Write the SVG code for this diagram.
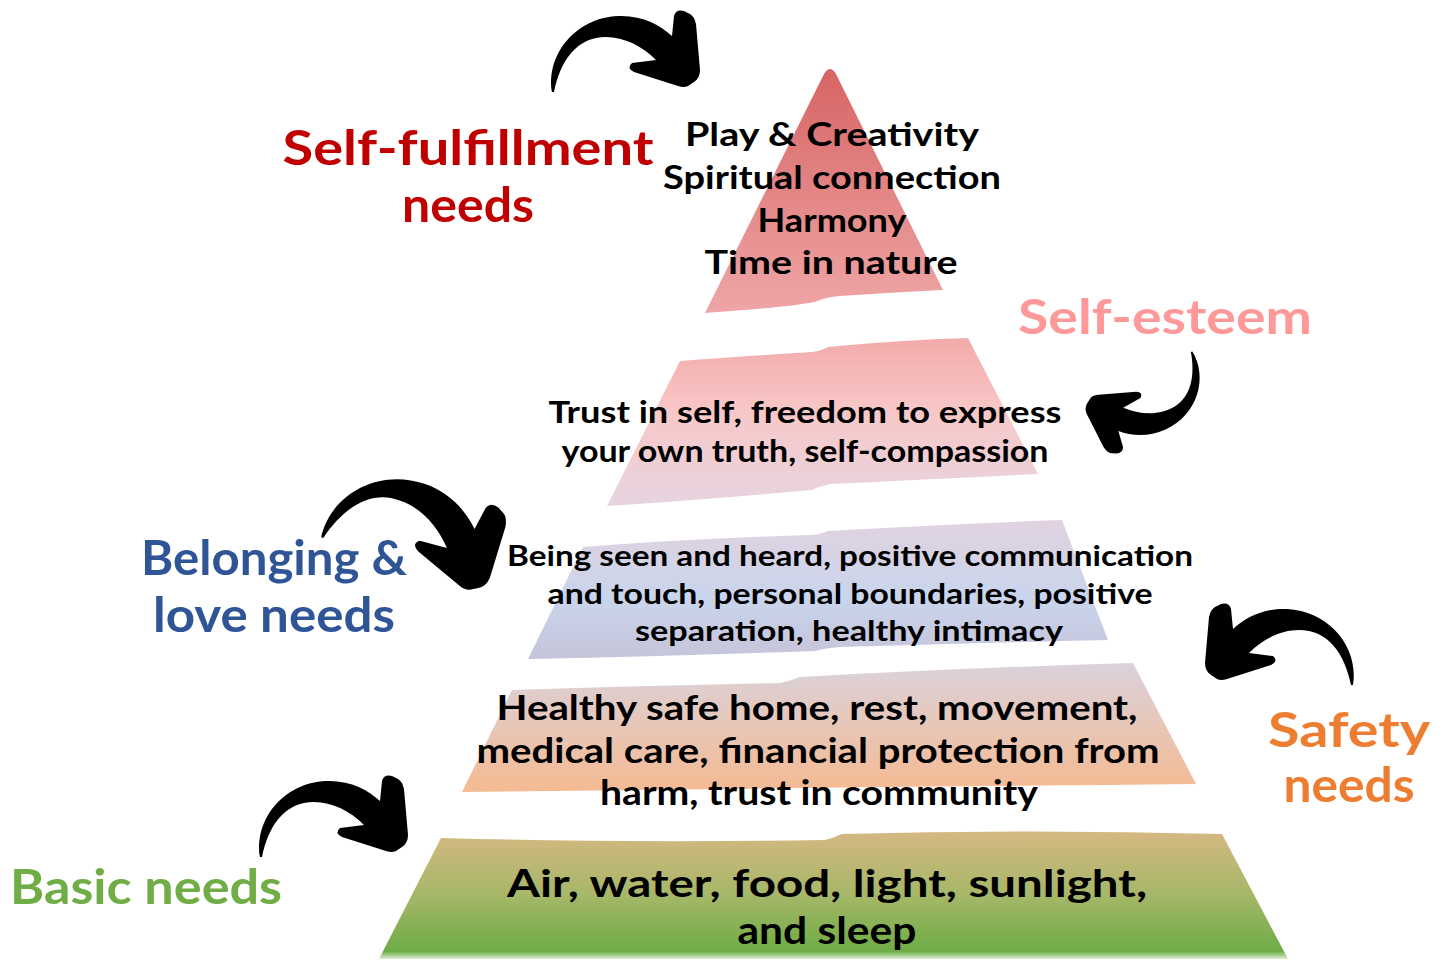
<svg xmlns="http://www.w3.org/2000/svg" xmlns:xlink="http://www.w3.org/1999/xlink" width="1450" height="962" viewBox="0 0 1450 962">
  <style>
    .t { font-family: "Lato", "Open Sans", "Liberation Sans", sans-serif; font-weight: 700; fill: #000; text-anchor: middle; }
    .lbl { font-family: "Lato", "Open Sans", "Liberation Sans", sans-serif; font-weight: 700; font-size: 48px; text-anchor: middle; }
    .hook { fill: #000; }
  </style>
  <defs>
    <linearGradient id="g1" x1="0" y1="0" x2="0" y2="1">
      <stop offset="0" stop-color="#d76464"/>
      <stop offset="1" stop-color="#efa6a6"/>
    </linearGradient>
    <linearGradient id="g2" x1="0" y1="0" x2="0" y2="1">
      <stop offset="0" stop-color="#f3aaaa"/>
      <stop offset="0.45" stop-color="#f8c8c8"/>
      <stop offset="1" stop-color="#e6d4e0"/>
    </linearGradient>
    <linearGradient id="g3" x1="0" y1="0" x2="0" y2="1">
      <stop offset="0" stop-color="#e2d2e0"/>
      <stop offset="0.55" stop-color="#c9d5ec"/>
      <stop offset="1" stop-color="#c6c4da"/>
    </linearGradient>
    <linearGradient id="g4" x1="0" y1="0" x2="0" y2="1">
      <stop offset="0" stop-color="#dad2dc"/>
      <stop offset="1" stop-color="#f5ba92"/>
    </linearGradient>
    <linearGradient id="g5" x1="0" y1="0" x2="0" y2="1">
      <stop offset="0" stop-color="#d5b882"/>
      <stop offset="0.5" stop-color="#a6b768"/>
      <stop offset="0.94" stop-color="#6eac45"/>
      <stop offset="1" stop-color="#dfeed6"/>
    </linearGradient>
    <!-- thick hand-drawn hook arrow: tail at (552,90), head at right -->
    <path id="hook" d="M552,92 C546,55 575,18 618,16 C642,15 660,25 672,36 L674,16 Q676,9 684,11 L690,14 Q694,16 696,24 L700,70 Q700,78 694,82 L688,86 Q684,88 678,86 L634,72 Q626,68 632,63 L656,60 C640,44 618,34 596,38 C575,42 560,62 554,92 Z"/>
  </defs>

  <!-- pyramid tiers -->
  <g id="tier-self-fulfillment">
    <path d="M824,74 Q830,64 836,74 L943,290 Q900,292 840,296 Q826,297 815,302 Q790,307 705,313 Z" fill="url(#g1)"/>
    <text class="t" font-size="33" x="832" y="146" textLength="294" lengthAdjust="spacingAndGlyphs">Play &amp; Creativity</text>
    <text class="t" font-size="33" x="832" y="189" textLength="338" lengthAdjust="spacingAndGlyphs">Spiritual connection</text>
    <text class="t" font-size="33" x="832" y="232" textLength="149" lengthAdjust="spacingAndGlyphs">Harmony</text>
    <text class="t" font-size="33" x="831" y="274" textLength="253" lengthAdjust="spacingAndGlyphs">Time in nature</text>
  </g>

  <g id="tier-self-esteem">
    <path d="M680,361 Q760,355 812,352 Q821,351 828,347 Q900,340 968,338 L1038,474 Q960,478 830,484 Q820,486 812,490 Q700,500 607,506 Z" fill="url(#g2)"/>
    <text class="t" font-size="30" x="805" y="423" textLength="513" lengthAdjust="spacingAndGlyphs">Trust in self, freedom to express</text>
    <text class="t" font-size="30" x="805" y="462" textLength="487" lengthAdjust="spacingAndGlyphs">your own truth, self-compassion</text>
  </g>

  <g id="tier-belonging">
    <path d="M583,547 Q700,538 812,535 Q821,534 828,531 Q950,524 1062,520 L1108,640 Q980,643 840,647 Q825,648 815,651 Q680,656 528,659 Z" fill="url(#g3)"/>
    <text class="t" font-size="29" x="850" y="566" textLength="686" lengthAdjust="spacingAndGlyphs">Being seen and heard, positive communication</text>
    <text class="t" font-size="29" x="850" y="604" textLength="605" lengthAdjust="spacingAndGlyphs">and touch, personal boundaries, positive</text>
    <text class="t" font-size="29" x="849" y="641" textLength="428" lengthAdjust="spacingAndGlyphs">separation, healthy intimacy</text>
  </g>

  <g id="tier-safety">
    <path d="M512,690 Q650,686 780,683 Q790,681 800,677 Q960,668 1133,663 L1196,784 Q1000,786 800,788 Q640,790 462,792 Z" fill="url(#g4)"/>
    <text class="t" font-size="35" x="817" y="720" textLength="641" lengthAdjust="spacingAndGlyphs">Healthy safe home, rest, movement,</text>
    <text class="t" font-size="35" x="818" y="763" textLength="683" lengthAdjust="spacingAndGlyphs">medical care, financial protection from</text>
    <text class="t" font-size="35" x="819" y="805" textLength="438" lengthAdjust="spacingAndGlyphs">harm, trust in community</text>
  </g>

  <g id="tier-basic">
    <path d="M441,838 Q620,843 825,840 Q833,838 842,834 Q1030,829 1222,834 L1288,959 L379,959 Z" fill="url(#g5)"/>
    <text class="t" font-size="38" x="827" y="897" textLength="640" lengthAdjust="spacingAndGlyphs">Air, water, food, light, sunlight,</text>
    <text class="t" font-size="38" x="827" y="944" textLength="179" lengthAdjust="spacingAndGlyphs">and sleep</text>
  </g>

  <!-- need-level labels -->
  <g id="label-self-fulfillment" fill="#c00000">
    <text class="lbl" x="468" y="165" textLength="371" lengthAdjust="spacingAndGlyphs">Self-fulfillment</text>
    <text class="lbl" x="468" y="222" textLength="132" lengthAdjust="spacingAndGlyphs">needs</text>
  </g>
  <g id="label-self-esteem" fill="#ff9999">
    <text class="lbl" x="1165" y="334" textLength="294" lengthAdjust="spacingAndGlyphs">Self-esteem</text>
  </g>
  <g id="label-belonging" fill="#2f5597">
    <text class="lbl" x="274" y="575" textLength="266" lengthAdjust="spacingAndGlyphs">Belonging &amp;</text>
    <text class="lbl" x="274" y="632" textLength="242" lengthAdjust="spacingAndGlyphs">love needs</text>
  </g>
  <g id="label-safety" fill="#ed7d31">
    <text class="lbl" x="1349" y="747" textLength="162" lengthAdjust="spacingAndGlyphs">Safety</text>
    <text class="lbl" x="1349" y="802" textLength="131" lengthAdjust="spacingAndGlyphs">needs</text>
  </g>
  <g id="label-basic" fill="#70ad47">
    <text class="lbl" x="146" y="904" textLength="272" lengthAdjust="spacingAndGlyphs">Basic needs</text>
  </g>

  <!-- curved pointer arrows -->
  <g id="connectors" class="hook">
    <use xlink:href="#hook" href="#hook"/>
    <use xlink:href="#hook" href="#hook" transform="translate(1193,353) rotate(158) scale(0.82) translate(-552,-90)"/>
    <use xlink:href="#hook" href="#hook" transform="translate(322,535) rotate(22) scale(1.16) translate(-552,-90)"/>
    <use xlink:href="#hook" href="#hook" transform="translate(1353,683) scale(-1,1) translate(-552,-90)"/>
    <use xlink:href="#hook" href="#hook" transform="translate(-292,765)"/>
  </g>
</svg>
